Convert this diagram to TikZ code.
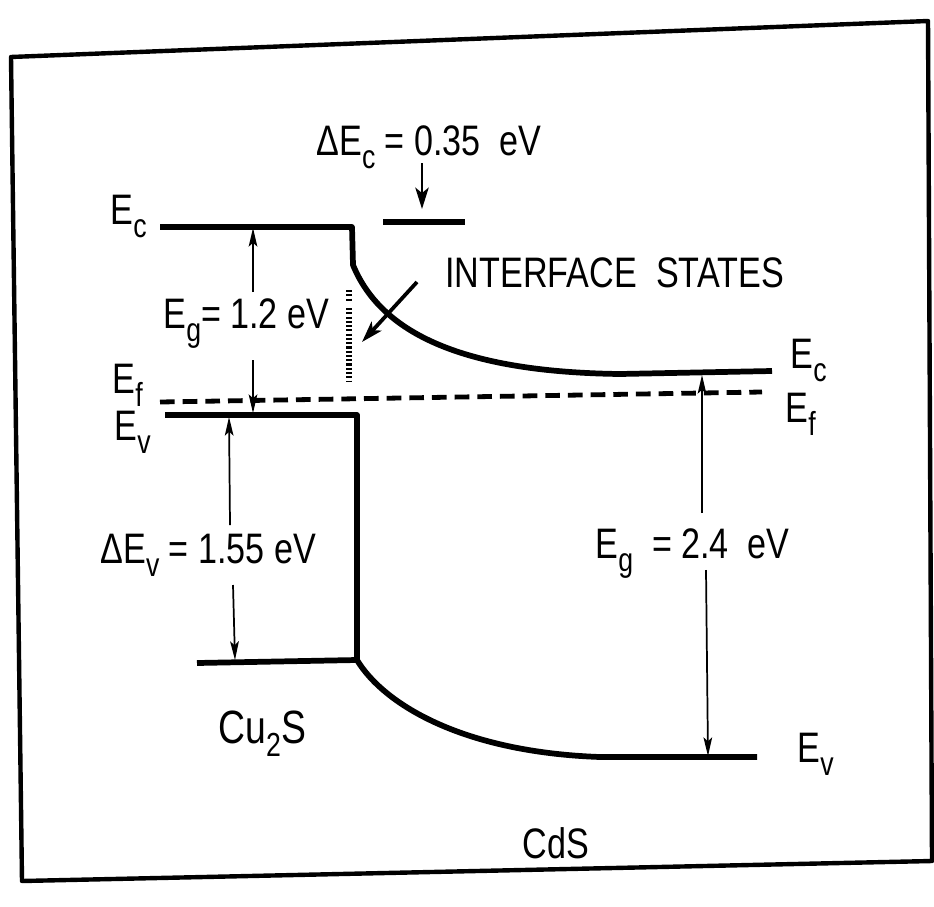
\documentclass[tikz,border=0pt]{standalone}
\usepackage{graphicx}
\usepackage{fontspec}
\setmainfont{Liberation Sans}
\usetikzlibrary{arrows.meta}

\newcommand{\lo}[1]{\raisebox{-10pt}{\fontsize{25}{25}\selectfont #1}}
\newcommand{\nar}[1]{\scalebox{0.8}[1]{#1}}

\tikzset{every picture/.style={line width=0.75pt}}
\tikzset{
	band/.style={line width=4.3pt, line join=round},
	fermi/.style={line width=3.6pt, dash pattern={on 11pt off 6pt}},
	dim/.style={line width=1.3pt, -{Stealth[length=14pt,width=6.5pt,inset=3pt]}},
	bigarrow/.style={line width=2.8pt, -{Stealth[length=16pt,width=10pt,inset=4pt]}},
	lbl/.style={inner sep=0pt, font=\fontsize{32}{36}\selectfont},
}

\begin{document}
\begin{tikzpicture}[x=0.75pt,y=0.75pt,yscale=-1,xscale=1]
		\useasboundingbox (0,0) rectangle (934,906);
		
		%Frame
		\draw [line width=3.3pt, line join=round] (11,57) -- (928,21) -- (932,861) -- (22,881) -- cycle;
		
		%Conduction band
		\draw [band] (160,227) -- (352,227) -- (353,265) .. controls (381,333) and (462,372) .. (620,374) -- (772,371) ;
		%Conduction band step
		\draw [band] (383,222) -- (465,222) ;
		%Fermi level
		\draw [fermi] (160,402) -- (762,392) ;
		%Valence band
		\draw [band] (165,415) -- (357,415) -- (357,660) ;
		\draw [band] (197,663) -- (357,660) .. controls (383,703) and (460,752) .. (600,757) -- (757,757) ;
		%Interface states
		\draw [line width=5pt, dash pattern={on 1.6pt off 1.6pt}] (349,290) -- (349,302) ;
		\draw [line width=5pt, dash pattern={on 1.6pt off 1.6pt}] (349,308) -- (349,382) ;
		
		% Text Node
		\node [lbl, anchor=base west] (ecL) at (110,224) {\nar{E\lo{c}}};
		% Text Node
		\node [lbl, anchor=base west] (efL) at (112,393) {\nar{E\lo{f}}};
		% Text Node
		\node [lbl, anchor=base west] (evL) at (114,440) {\nar{E\lo{v}}};
		% Text Node
		\node [lbl, anchor=base west] (ecR) at (790,368) {\nar{E\lo{c}}};
		% Text Node
		\node [lbl, anchor=base west] (efR) at (785,422) {\nar{E\lo{f}}};
		% Text Node
		\node [lbl, anchor=base west] (evR) at (797,762) {\nar{E\lo{v}}};
		% Text Node
		\node [lbl, anchor=base west] (dec) at (316,155) {\nar{ΔE\lo{c} = 0.35\ \ eV}};
		% Text Node
		\node [lbl, anchor=base west] (ifs) at (445,287) {\nar{INTERFACE\ \ STATES}};
		% Text Node
		\node [lbl, anchor=base west] (eg1) at (163,328) {\nar{E\lo{g}= 1.2 eV}};
		% Text Node
		\node [lbl, anchor=base west] (dev) at (100,563) {\nar{ΔE\lo{v} = 1.55\ eV}};
		% Text Node
		\node [lbl, anchor=base west] (eg2) at (595,558) {\nar{E\lo{g}\ \ = 2.4\ \ eV}};
		% Text Node
		\node [lbl, anchor=base west, font=\fontsize{35}{38}\selectfont] (cu) at (218,743) {\nar{Cu\lo{2}S}};
		% Text Node
		\node [lbl, anchor=base west] (cds) at (522,858) {\nar{CdS}};
		
		%Arrow ends
		\coordinate (g1top) at (253,228);
		\coordinate (g1up) at (253,292);
		\coordinate (g1dn) at (253,360);
		\coordinate (g1bot) at (253,413);
		\coordinate (dvtop) at (229,417);
		\coordinate (dvup) at (230,525);
		\coordinate (dvdn) at (233,585);
		\coordinate (dvbot) at (235,660);
		\coordinate (g2top) at (702,375);
		\coordinate (g2up) at (702,513);
		\coordinate (g2dn) at (706,570);
		\coordinate (g2bot) at (708,756);
		\coordinate (dctop) at (422,163);
		\coordinate (dcbot) at (422,209);
		\coordinate (iftail) at (417,282);
		\coordinate (ifhead) at (362,342);
		
		\draw [dim] (g1up) -- (g1top) ;
		\draw [dim] (g1dn) -- (g1bot) ;
		\draw [dim] (dvup) -- (dvtop) ;
		\draw [dim] (dvdn) -- (dvbot) ;
		\draw [dim] (g2up) -- (g2top) ;
		\draw [dim] (g2dn) -- (g2bot) ;
		\draw [bigarrow, line width=2pt] (dctop) -- (dcbot) ;
		\draw [bigarrow] (iftail) -- (ifhead) ;
		
\end{tikzpicture}
\end{document}
